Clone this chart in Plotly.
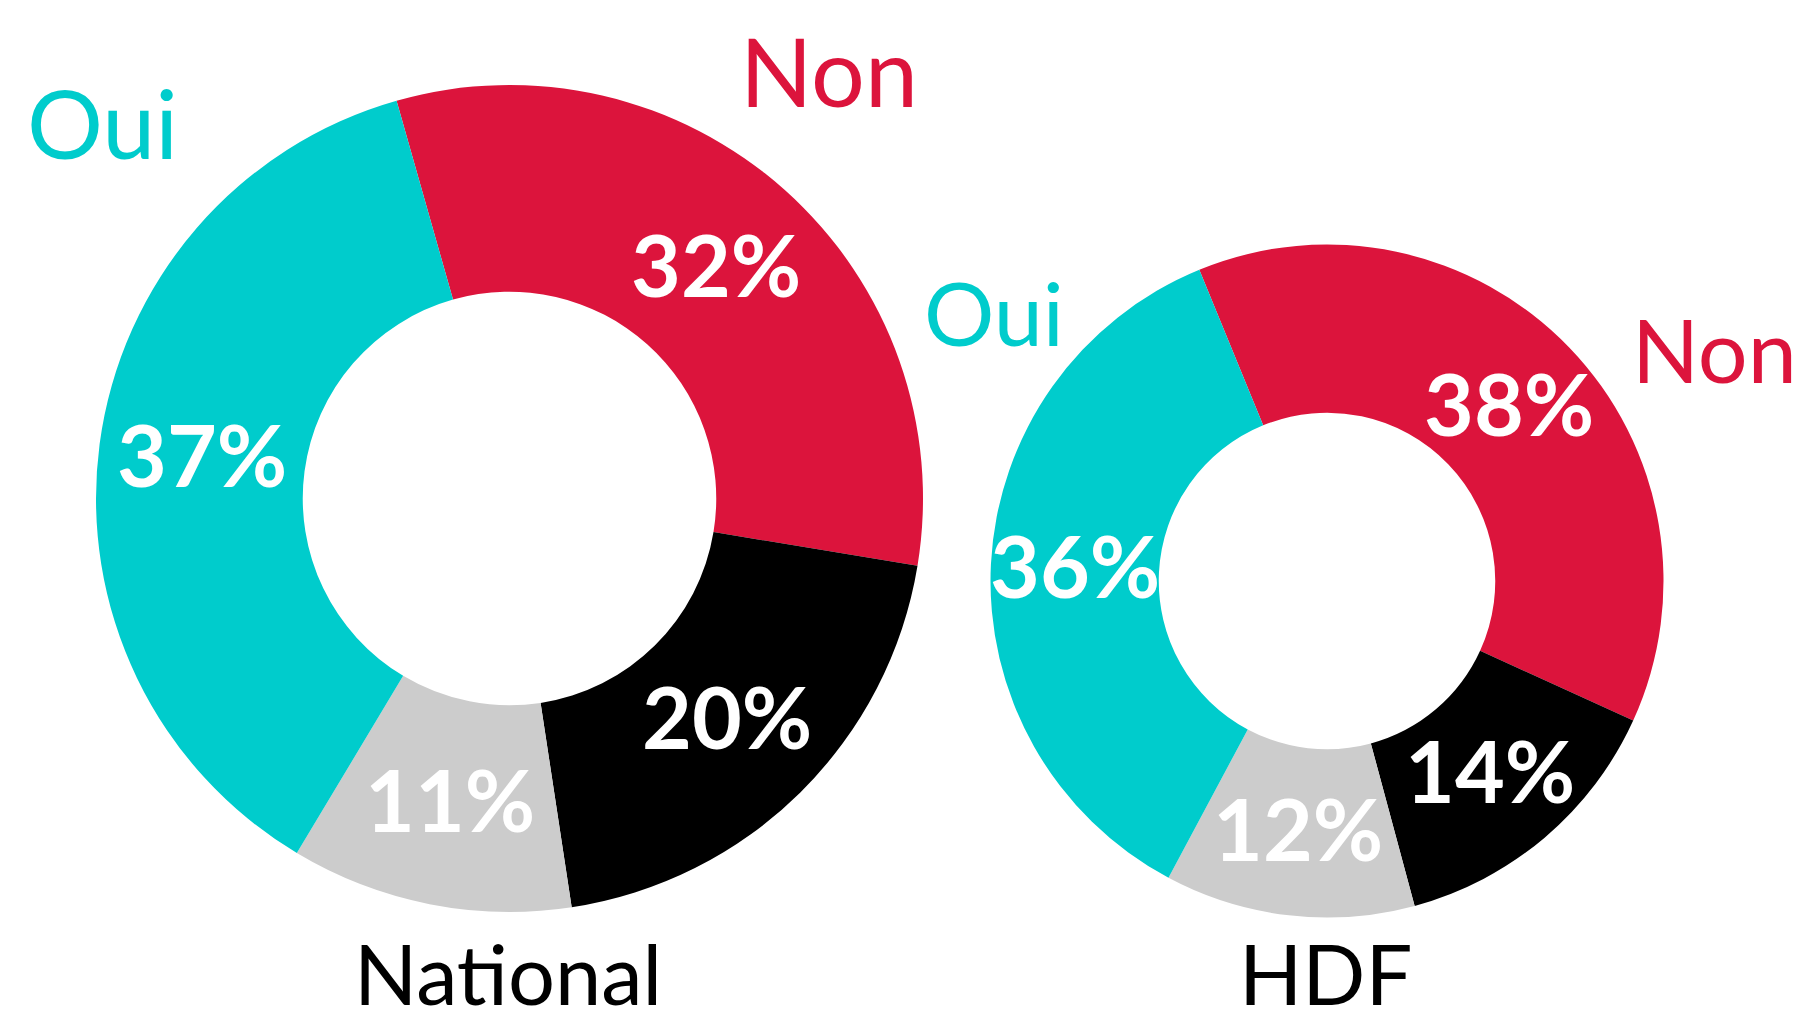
import math
import plotly.graph_objects as go

# ---- data ----
categories = ["Non", "Ne se prononce pas", "Ne sait pas", "Oui"]
national_values = [32, 20, 11, 37]
hdf_values = [38, 14, 12, 36]
group_names = ["National", "HDF"]
slice_colors = ["#DC143C", "#000000", "#CCCCCC", "#00CCCC"]

# ---- layout constants (pixels) ----
W, H = 1800, 1022
FONT = "Lato"
HOLE = 0.5
pies = [
    dict(values=national_values, cx=509.5, cy=498.5, r=413.5, rot=-15.85, name=group_names[0]),
    dict(values=hdf_values, cx=1327.0, cy=581.0, r=336.5, rot=-22.3, name=group_names[1]),
]

fig = go.Figure()
annotations = []

for p in pies:
    dom_x = [(p["cx"] - p["r"]) / W, (p["cx"] + p["r"]) / W]
    dom_y = [1 - (p["cy"] + p["r"]) / H, 1 - (p["cy"] - p["r"]) / H]
    fig.add_trace(go.Pie(
        labels=categories,
        values=p["values"],
        hole=HOLE,
        sort=False,
        direction="clockwise",
        rotation=p["rot"],
        marker=dict(colors=slice_colors, line=dict(width=0)),
        textinfo="none",
        hoverinfo="label+percent",
        showlegend=False,
        domain=dict(x=dom_x, y=dom_y),
        name=p["name"],
    ))
    # percentage labels placed at mid-angle / mid-ring, derived from values
    total = sum(p["values"])
    ang = p["rot"]
    rmid = p["r"] * (1 + HOLE) / 2
    for v in p["values"]:
        span = 360.0 * v / total
        mid = math.radians(ang + span / 2)
        px = p["cx"] + rmid * math.sin(mid)
        py = p["cy"] - rmid * math.cos(mid) - 4
        annotations.append(dict(
            x=px / W, y=1 - py / H, xref="paper", yref="paper",
            text=f"{v}%", showarrow=False, xanchor="center", yanchor="middle",
            font=dict(family=FONT, size=86, color="white", weight=700),
        ))
        ang += span

# outer text labels
def lab(text, x, y, color, size):
    annotations.append(dict(
        x=x / W, y=1 - y / H, xref="paper", yref="paper", text=text,
        showarrow=False, xanchor="center", yanchor="middle",
        font=dict(family=FONT, size=size, color=color),
    ))

lab("Oui", 102, 122, "#00CCCC", 95)
lab("Non", 829, 70, "#DC143C", 95)
lab("Oui", 994, 312, "#00CCCC", 88)
lab("Non", 1714, 349, "#DC143C", 88)
lab(group_names[0], 508.5, 973, "#000000", 83)
lab(group_names[1], 1325, 973, "#000000", 83)

fig.update_layout(
    width=W, height=H, autosize=False,
    margin=dict(l=0, r=0, t=0, b=0),
    paper_bgcolor="white", plot_bgcolor="white",
    annotations=annotations,
)

fig.write_html(
    "out.html",
    config={"displayModeBar": False},
    post_script="document.body.style.margin='0';document.body.style.padding='0';document.body.style.overflow='hidden';",
)
